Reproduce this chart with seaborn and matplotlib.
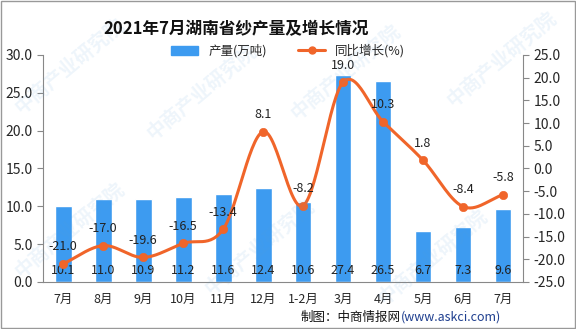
import numpy as np
import pandas as pd
import matplotlib
matplotlib.use("Agg")
import matplotlib.pyplot as plt
import seaborn as sns
from matplotlib.lines import Line2D
from matplotlib.patches import Patch

categories = ["7月", "8月", "9月", "10月", "11月", "12月", "1-2月", "3月", "4月", "5月", "6月", "7月"]
production = [10.1, 11.0, 10.9, 11.2, 11.6, 12.4, 10.6, 27.4, 26.5, 6.7, 7.3, 9.6]
growth = [-21.0, -17.0, -19.6, -16.5, -13.4, 8.1, -8.2, 19.0, 10.3, 1.8, -8.4, -5.8]

sns.set_style("white")
plt.rcParams['font.family'] = ['Noto Sans CJK SC', 'DejaVu Sans']

BAR = "#3d9bf0"
LINE = "#f0652a"

fig = plt.figure(figsize=(5.76, 3.29), dpi=100)
ax = fig.add_axes([0.075, 0.143, 0.833, 0.690])
ax2 = ax.twinx()

df = pd.DataFrame({"cat": [f"{i}" for i in range(len(categories))], "prod": production, "growth": growth})
sns.barplot(data=df, x="cat", y="prod", color=BAR, width=0.42, ax=ax, saturation=1)

# smooth line through growth points (Catmull-Rom)
x = np.arange(len(growth), dtype=float)
y = np.array(growth)
xs, ys = [], []
P = np.vstack([x, y]).T
P = np.vstack([P[0] - (P[1] - P[0]), P, P[-1] + (P[-1] - P[-2])])
for i in range(1, len(P) - 2):
    p0, p1, p2, p3 = P[i - 1], P[i], P[i + 1], P[i + 2]
    t = np.linspace(0, 1, 30)[:, None]
    seg = 0.5 * ((2 * p1) + (-p0 + p2) * t + (2 * p0 - 5 * p1 + 4 * p2 - p3) * t ** 2 + (-p0 + 3 * p1 - 3 * p2 + p3) * t ** 3)
    xs.extend(seg[:, 0]); ys.extend(seg[:, 1])
ax2.plot(xs, ys, color=LINE, lw=2.2, zorder=3)
sns.scatterplot(x=x, y=y, color=LINE, s=36, edgecolor=LINE, ax=ax2, zorder=4, legend=False)

ax.set_ylim(0, 30)
ax2.set_ylim(-25, 25)
ax.set_xlim(-0.5, len(categories) - 0.5)
ax.set_yticks(np.arange(0, 30.1, 5))
ax.set_yticklabels([f"{v:.1f}" for v in np.arange(0, 30.1, 5)], fontsize=10)
ax2.set_yticks(np.arange(-25, 25.1, 5))
ax2.set_yticklabels([f"{v:.1f}" for v in np.arange(-25, 25.1, 5)], fontsize=10)
ax.set_xticks(range(len(categories)))
ax.set_xticklabels(categories, fontsize=9)
ax.set_xticks(np.arange(-0.5, len(categories), 1), minor=True)
ax.tick_params(axis="x", which="major", length=0, pad=8)
ax.tick_params(axis="x", which="minor", length=4, color="#888888")
ax.tick_params(axis="y", length=4, color="#888888", left=True)
ax2.tick_params(axis="y", length=4, color="#888888", right=True)
ax.set_xlabel(""); ax.set_ylabel(""); ax2.set_ylabel("")
for a in (ax, ax2):
    for s in a.spines.values():
        s.set_visible(False)
ax.spines["left"].set_visible(True); ax.spines["left"].set_color("#888888")
ax.spines["bottom"].set_visible(True); ax.spines["bottom"].set_color("#888888")
ax2.spines["right"].set_visible(True); ax2.spines["right"].set_color("#888888")

for i, v in enumerate(production):
    ax.text(i, 1.5, f"{v:.1f}", ha="center", va="center", fontsize=9, color="#222222", zorder=5)
for i, v in enumerate(growth):
    ax2.text(i, v + 2.3, f"{v:.1f}", ha="center", va="bottom", fontsize=9, color="#222222", zorder=5)

# watermark
for (wx, wy) in [(0.12, 0.80), (0.35, 0.72), (0.60, 0.78), (0.87, 0.82), (0.12, 0.30), (0.45, 0.25), (0.75, 0.22)]:
    fig.text(wx, wy, "中商产业研究院", fontsize=14, color="#5a9fd8", alpha=0.10,
             rotation=40, ha="center", va="center", fontweight="bold")

fig.text(0.41, 0.91, "2021年7月湖南省纱产量及增长情况", ha="center", va="center",
         fontsize=12, fontweight="bold", color="#111111")

handles = [Patch(facecolor=BAR, edgecolor=BAR),
           Line2D([0], [0], color=LINE, lw=2.2, marker="o", markersize=5)]
fig.legend(handles, ["产量(万吨)", "同比增长(%)"], loc="center", bbox_to_anchor=(0.5, 0.845),
           ncol=2, frameon=False, fontsize=9, handlelength=2.2, columnspacing=2.5,
           handleheight=0.8)

t = fig.text(0.87, 0.035, "(www.askci.com)", ha="right", va="center", fontsize=9, color="#1f3f8f")
src = fig.text(0.87, 0.035, "制图：中商情报网", ha="right", va="center", fontsize=9, color="#111111")
fig.canvas.draw()
r = fig.canvas.get_renderer()
bb = t.get_window_extent(r)
src.set_position((bb.x0 / fig.bbox.width, 0.035))

border = plt.Rectangle((0.001, 0.002), 0.997, 0.995, transform=fig.transFigure,
                       fill=False, edgecolor="#999999", lw=1)
fig.patches.append(border)

fig.savefig("out.png", dpi=100)
